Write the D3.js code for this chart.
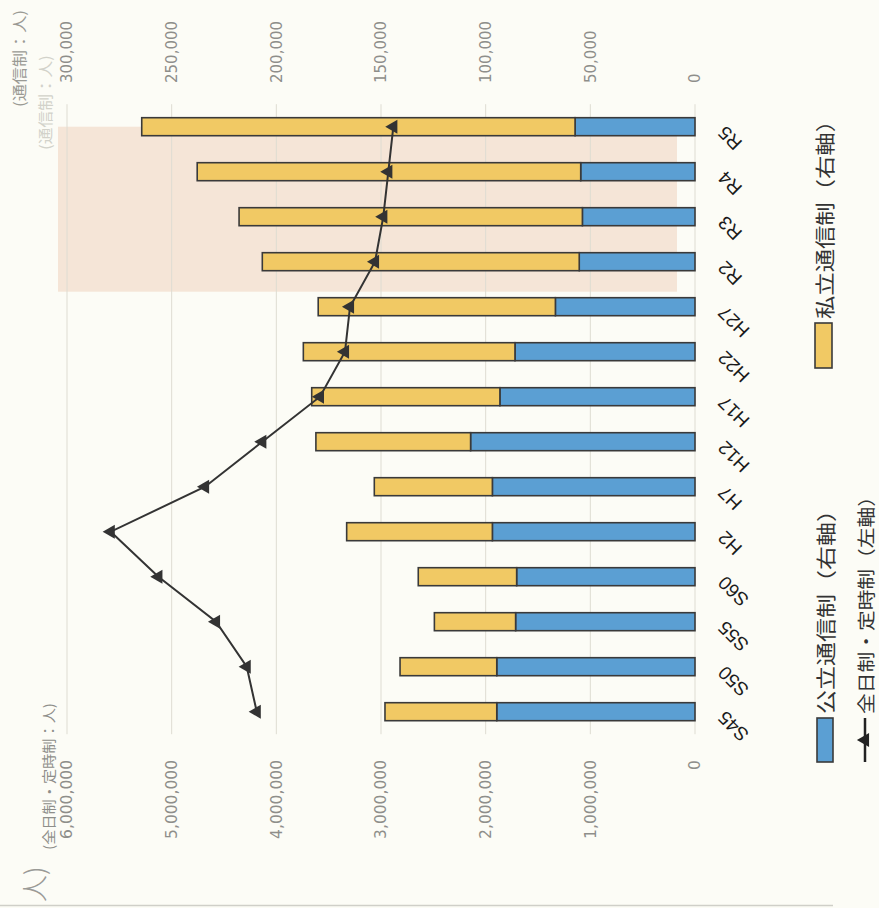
<!DOCTYPE html>
<html><head><meta charset="utf-8">
<script src="https://cdn.jsdelivr.net/npm/d3@7"></script>
<style>
html,body{margin:0;padding:0;background:#fcfcf6;}
svg{display:block;}
</style></head>
<body>
<script>
// ---- data ----
const categories = ["S45","S50","S55","S60","H2","H7","H12","H17","H22","H27","R2","R3","R4","R5"];
const publicCorr  = [94700, 94700, 85700, 85200, 96800, 96800, 107200, 93200, 86000, 66700, 55300, 53800, 54600, 57300];   // 公立通信制（右軸）
const privateCorr = [53400, 46200, 38800, 47000, 69600, 56400, 73900, 89900, 101100, 113300, 151400, 164000, 183200, 207000]; // 私立通信制（右軸）
const fullPart    = [4187000, 4283000, 4576000, 5127000, 5582000, 4681000, 4134000, 3583000, 3344000, 3296000, 3057000, 2978000, 2930000, 2882000]; // 全日制・定時制（左軸）
const leftTicks  = [0, 1000000, 2000000, 3000000, 4000000, 5000000, 6000000];
const rightTicks = [0, 50000, 100000, 150000, 200000, 250000, 300000];
const seriesNames = ["公立通信制（右軸）", "私立通信制（右軸）", "全日制・定時制（左軸）"];
const leftTitle = "(全日制・定時制：人)";
const rightTitle = "(通信制：人)";
const shadeFrom = "R2", shadeTo = "R5";

const W = 879, H = 908;
const svg = d3.select("body").append("svg").attr("width", W).attr("height", H);
svg.append("rect").attr("width", W).attr("height", H).attr("fill", "#fcfcf6");

// whole chart is rotated 90° counter-clockwise (scanned page)
const g = svg.append("g").attr("transform", `translate(0,${H}) rotate(-90)`);

const x = d3.scaleBand().domain(categories).range([173.8, 803.8]).paddingInner(0.6).paddingOuter(0.3);
const yL = d3.scaleLinear().domain([0, 6000000]).range([695, 67]);
const yR = d3.scaleLinear().domain([0, 300000]).range([695, 67]);
const bw = x.bandwidth();
const [u0, u1] = x.range();

// shaded annotation box
g.append("rect")
  .attr("x", x(shadeFrom) + bw / 2 - 30)
  .attr("width", (x(shadeTo) + bw / 2) - (x(shadeFrom) + bw / 2 - 30))
  .attr("y", yR.range()[1] - 9)
  .attr("height", (yR(0) - 18) - (yR.range()[1] - 9))
  .attr("fill", "#f5e5d7");

// gridlines
g.append("g").selectAll("line").data(rightTicks).join("line")
  .attr("x1", u0).attr("x2", u1)
  .attr("y1", d => yR(d)).attr("y2", d => yR(d))
  .attr("stroke", "#dedcd2").attr("stroke-width", 1);

// stacked bars
const barG = g.append("g");
barG.selectAll("rect.pub").data(categories).join("rect").attr("class", "pub")
  .attr("x", c => x(c)).attr("width", bw)
  .attr("y", (c, i) => yR(publicCorr[i]))
  .attr("height", (c, i) => yR(0) - yR(publicCorr[i]))
  .attr("fill", "#5b9fd3").attr("stroke", "#3a3a3a").attr("stroke-width", 1.6);
barG.selectAll("rect.pri").data(categories).join("rect").attr("class", "pri")
  .attr("x", c => x(c)).attr("width", bw)
  .attr("y", (c, i) => yR(publicCorr[i] + privateCorr[i]))
  .attr("height", (c, i) => yR(publicCorr[i]) - yR(publicCorr[i] + privateCorr[i]))
  .attr("fill", "#f1c964").attr("stroke", "#3a3a3a").attr("stroke-width", 1.6);

// line with triangle markers
const line = d3.line().x((d, i) => x(categories[i]) + bw / 2).y(d => yL(d));
g.append("path").datum(fullPart).attr("d", line)
  .attr("fill", "none").attr("stroke", "#333").attr("stroke-width", 2);
const tri = d3.symbol().type(d3.symbolTriangle).size(85);
g.append("g").selectAll("path").data(fullPart).join("path")
  .attr("d", tri)
  .attr("transform", (d, i) => `translate(${x(categories[i]) + bw / 2},${yL(d)})`)
  .attr("fill", "#333");

// left axis (全日制・定時制)
const axL = g.append("g").attr("transform", "translate(151,0)")
  .call(d3.axisLeft(yL).tickValues(leftTicks).tickSize(0).tickPadding(3).tickFormat(d3.format(",")));
axL.select(".domain").remove();
axL.selectAll("text").attr("font-family", "DejaVu Sans").attr("font-size", 15.5).attr("fill", "#8e8e8a");

// right axis (通信制)
const axR = g.append("g").attr("transform", "translate(822,0)")
  .call(d3.axisRight(yR).tickValues(rightTicks).tickSize(0).tickPadding(3).tickFormat(d3.format(",")));
axR.select(".domain").remove();
axR.selectAll("text").attr("font-family", "DejaVu Sans").attr("font-size", 15).attr("fill", "#8e8e8a");

// category axis
const axC = g.append("g").attr("transform", "translate(0,695)")
  .call(d3.axisBottom(x).tickSize(0));
axC.select(".domain").remove();
axC.selectAll("text")
  .attr("x", 0).attr("y", 0).attr("dy", 0)
  .attr("transform", "translate(2,31) rotate(-45)")
  .style("text-anchor", "end")
  .attr("font-family", "Liberation Sans, Arial, sans-serif")
  .attr("font-size", 19).attr("fill", "#1a1a1a");

// axis titles
const jp = "Noto Sans CJK JP";
g.append("text").attr("x", 58).attr("y", 48).attr("dominant-baseline", "central")
  .attr("font-family", jp).attr("font-size", 14).attr("fill", "#8e8e8a")
  .attr("textLength", 147).attr("lengthAdjust", "spacingAndGlyphs").text(leftTitle);
g.append("text").attr("x", 801).attr("y", 18).attr("dominant-baseline", "central")
  .attr("font-family", jp).attr("font-size", 15).attr("fill", "#9a9a94")
  .attr("textLength", 97).attr("lengthAdjust", "spacingAndGlyphs").text(rightTitle);
g.append("text").attr("x", 758).attr("y", 44).attr("dominant-baseline", "central")
  .attr("font-family", jp).attr("font-size", 15).attr("fill", "#d2d2ca")
  .attr("textLength", 95).attr("lengthAdjust", "spacingAndGlyphs").text(rightTitle);

// page fragment (scan)
g.append("text").attr("x", 6).attr("y", 33).attr("dominant-baseline", "central")
  .attr("font-family", jp).attr("font-size", 27).attr("font-weight", 300).attr("fill", "#9a9a96").text("人)");

// legend
const leg = g.append("g");
// 公立
leg.append("rect").attr("x", 146).attr("y", 817).attr("width", 44).attr("height", 16)
  .attr("fill", "#5b9fd3").attr("stroke", "#3a3a3a").attr("stroke-width", 1.6);
leg.append("text").attr("x", 194).attr("y", 825).attr("dominant-baseline", "central")
  .attr("font-family", jp).attr("font-size", 20).attr("fill", "#333")
  .attr("textLength", 216).attr("lengthAdjust", "spacingAndGlyphs").text(seriesNames[0]);
// 私立
leg.append("rect").attr("x", 540).attr("y", 815).attr("width", 45).attr("height", 17)
  .attr("fill", "#f1c964").attr("stroke", "#3a3a3a").attr("stroke-width", 1.6);
leg.append("text").attr("x", 589).attr("y", 824).attr("dominant-baseline", "central")
  .attr("font-family", jp).attr("font-size", 20).attr("fill", "#333")
  .attr("textLength", 210).attr("lengthAdjust", "spacingAndGlyphs").text(seriesNames[1]);
// 全日制・定時制
leg.append("line").attr("x1", 146).attr("x2", 190).attr("y1", 865).attr("y2", 865)
  .attr("stroke", "#222").attr("stroke-width", 2.5);
leg.append("path").attr("d", tri).attr("transform", "translate(168,865)").attr("fill", "#222");
leg.append("text").attr("x", 194).attr("y", 865).attr("dominant-baseline", "central")
  .attr("font-family", jp).attr("font-size", 18).attr("fill", "#333")
  .attr("textLength", 228).attr("lengthAdjust", "spacingAndGlyphs").text(seriesNames[2]);

// scan edge line
svg.append("line").attr("x1", 0).attr("x2", 833).attr("y1", 905.5).attr("y2", 905.5)
  .attr("stroke", "#cfcfc8").attr("stroke-width", 1.5);
</script>
</body></html>
